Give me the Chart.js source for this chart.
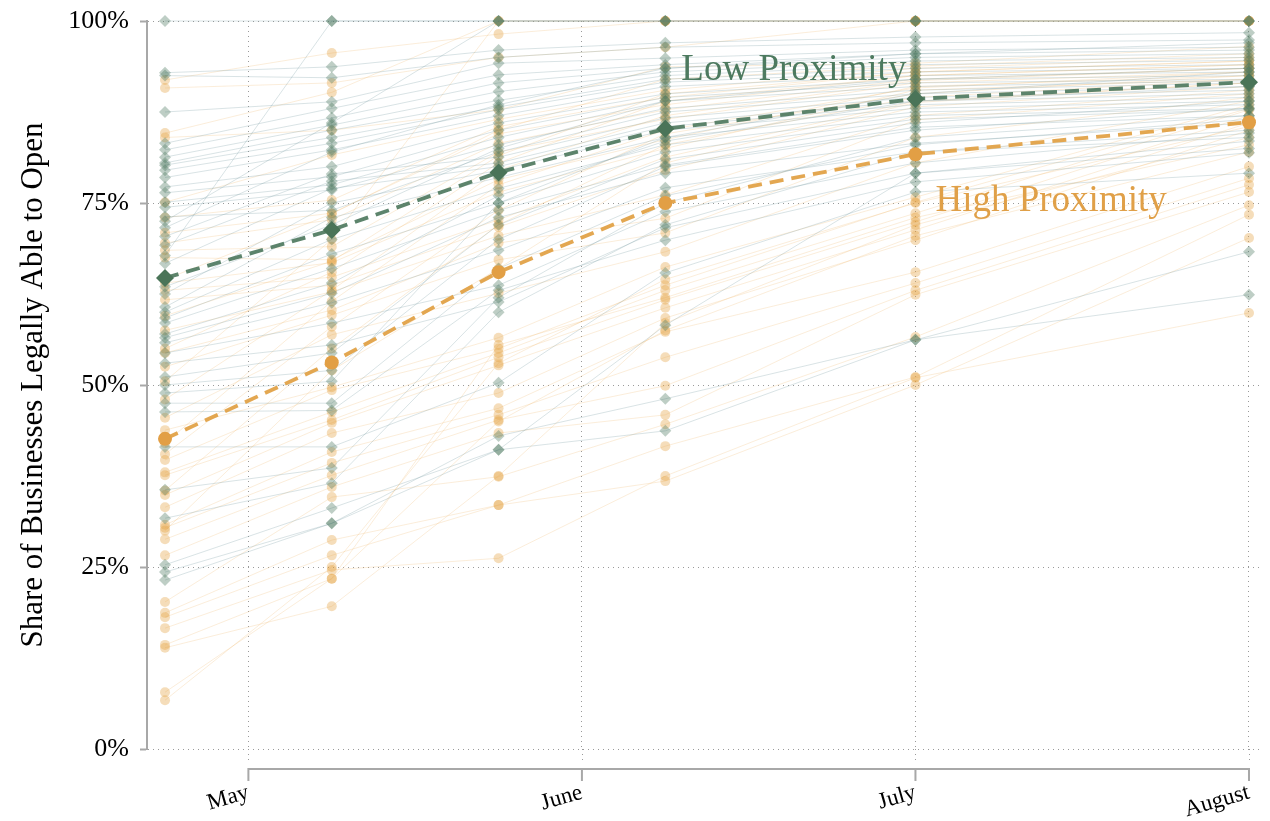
<!DOCTYPE html>
<html>
<head>
<meta charset="utf-8">
<script src="https://cdn.jsdelivr.net/npm/chart.js@4.4.1/dist/chart.umd.min.js"></script>
<style>
  html, body { margin: 0; padding: 0; background: #ffffff; }
  #wrap { width: 1270px; height: 821px; }
</style>
</head>
<body>
<div id="wrap"><canvas id="c" width="1270" height="821"></canvas></div>
<script>
// Month axis: values are month numbers (5 = start of May)
const monthTicks = [5, 6, 7, 8];
const monthLabels = ['May', 'June', 'July', 'August'];
const obsDates = [4.75, 5.25, 5.75, 6.25, 7, 8];
const yTicks = [0, 25, 50, 75, 100];

// Averages across states (percent legally able to open)
const lowMean  = [64.7, 71.3, 79.2, 85.2, 89.3, 91.6];
const highMean = [42.6, 53.1, 65.5, 75.0, 81.7, 86.1];

// Per-state trajectories, low-proximity businesses
const lowStates = [
  [100, 100, 100, 100, 100, 100],
  [92.9, 93.7, 96.0, 97.0, 97.8, 98.4],
  [92.5, 92.2, 95.0, 96.4, 97.0, 97.4],
  [87.5, 88.9, 94.2, 94.9, 96.0, 96.4],
  [83.2, 88.0, 92.6, 94.0, 95.5, 96.0],
  [82.3, 86.7, 91.5, 93.5, 95.0, 95.5],
  [81.3, 85.7, 90.3, 93.0, 94.5, 95.0],
  [80.5, 85.0, 89.1, 92.5, 94.0, 94.6],
  [80.2, 84.0, 88.2, 92.0, 93.5, 94.0],
  [79.5, 83.2, 87.8, 91.6, 93.0, 93.5],
  [78.5, 82.3, 87.0, 91.0, 92.5, 93.0],
  [77.2, 80.0, 86.0, 90.0, 92.0, 92.5],
  [76.4, 78.6, 85.0, 89.5, 91.5, 92.0],
  [75.1, 77.5, 84.0, 89.0, 91.0, 91.8],
  [74.4, 76.8, 83.0, 88.0, 90.5, 91.5],
  [73.1, 74.0, 82.0, 87.5, 90.0, 91.0],
  [72.5, 86.0, 100, 100, 100, 100],
  [71.6, 82.0, 88.5, 93.5, 95.5, 97.0],
  [70.4, 79.0, 81.3, 86.7, 89.5, 90.5],
  [69.2, 78.0, 80.5, 86.0, 89.0, 90.0],
  [66.7, 77.0, 80.0, 85.5, 88.5, 89.5],
  [62.5, 75.0, 79.5, 85.0, 88.0, 89.0],
  [60.7, 73.0, 78.5, 84.0, 87.5, 88.5],
  [60.0, 70.0, 77.0, 83.0, 87.0, 88.0],
  [59.2, 68.0, 75.0, 82.0, 86.5, 87.8],
  [58.5, 66.0, 74.0, 80.2, 85.4, 87.0],
  [56.5, 62.6, 73.0, 79.1, 83.2, 86.0],
  [55.8, 61.3, 68.5, 77.1, 82.0, 85.0],
  [54.4, 58.5, 63.7, 73.8, 80.5, 84.6],
  [53.0, 55.5, 61.4, 71.6, 79.1, 83.5],
  [51.1, 54.4, 72.0, 81.0, 86.0, 89.0],
  [50.0, 52.0, 70.0, 80.0, 85.0, 88.0],
  [48.9, 50.5, 75.0, 84.0, 90.0, 93.0],
  [47.5, 47.5, 66.0, 76.0, 83.0, 86.5],
  [46.3, 46.5, 63.0, 69.9, 77.9, 81.9],
  [41.5, 41.5, 50.3, 65.4, 76.5, 79.1],
  [35.6, 38.6, 62.0, 75.0, 84.0, 87.0],
  [31.7, 36.5, 60.0, 72.0, 82.0, 84.0],
  [25.3, 33.1, 41.1, 58.2, 79.1, 82.5],
  [24.3, 31.0, 43.0, 48.1, 56.2, 62.4],
  [23.2, 31.0, 41.1, 43.7, 56.2, 68.3],
  [57.0, 64.0, 76.0, 83.5, 89.0, 91.0],
  [63.5, 72.0, 82.5, 89.0, 92.0, 93.5],
  [67.8, 100, 100, 100, 100, 100]
];

// Per-state trajectories, high-proximity businesses
const highStates = [
  [91.9, 95.6, 98.2, 100, 100, 100],
  [90.8, 91.5, 95.0, 96.4, 100, 100],
  [84.6, 90.2, 100, 100, 100, 100],
  [84.0, 85.0, 87.8, 93.7, 94.2, 96.5],
  [75.1, 81.6, 86.5, 90.5, 93.5, 95.0],
  [73.0, 75.4, 85.5, 89.5, 93.0, 94.5],
  [70.9, 73.6, 84.5, 88.5, 92.5, 94.0],
  [69.5, 72.7, 83.2, 87.8, 92.0, 93.5],
  [68.5, 69.0, 82.0, 86.5, 91.5, 93.0],
  [67.5, 67.2, 78.2, 83.7, 91.0, 92.5],
  [64.0, 66.8, 76.5, 82.5, 90.5, 92.0],
  [63.0, 64.8, 72.7, 81.3, 89.0, 91.5],
  [61.7, 63.7, 71.7, 79.5, 88.2, 91.0],
  [57.5, 62.8, 70.5, 76.1, 87.0, 90.5],
  [54.4, 60.3, 69.5, 72.9, 86.4, 90.0],
  [52.5, 59.6, 67.2, 70.9, 84.0, 89.5],
  [45.5, 56.9, 62.6, 68.3, 80.5, 89.0],
  [43.8, 49.7, 56.5, 66.2, 75.8, 88.5],
  [39.7, 49.3, 55.0, 63.7, 75.1, 88.0],
  [38.0, 46.3, 54.4, 63.0, 73.6, 87.8],
  [37.6, 45.2, 53.8, 61.7, 72.4, 87.0],
  [34.9, 44.8, 52.7, 60.6, 71.3, 86.0],
  [33.2, 43.4, 48.9, 59.2, 69.9, 85.0],
  [30.8, 40.8, 46.8, 57.3, 65.5, 80.0],
  [30.4, 39.3, 45.9, 53.8, 64.0, 78.4],
  [28.8, 37.6, 45.2, 49.9, 63.0, 77.5],
  [26.6, 36.0, 43.4, 45.9, 62.4, 76.5],
  [20.2, 34.6, 37.4, 44.6, 56.6, 74.7],
  [18.7, 28.7, 33.5, 41.6, 51.1, 73.4],
  [18.1, 26.6, 33.5, 36.8, 50.0, 70.2],
  [16.6, 24.6, 26.2, 37.5, 51.0, 59.9],
  [14.3, 23.4, 45.0, 57.5, 70.5, 82.0],
  [13.9, 19.6, 37.5, 58.5, 72.0, 84.0],
  [7.8, 23.4, 55.5, 62.0, 73.0, 83.0],
  [6.7, 25.0, 53.0, 64.5, 75.0, 85.5],
  [64.5, 73.5, 85.0, 92.0, 93.8, 95.5],
  [59.5, 67.0, 81.5, 90.0, 93.0, 94.5],
  [55.0, 65.5, 80.5, 89.0, 92.5, 94.0],
  [48.0, 63.0, 79.5, 87.0, 91.8, 93.5],
  [42.0, 61.5, 77.5, 85.0, 90.8, 93.0],
  [40.5, 58.0, 74.0, 84.5, 90.0, 92.5],
  [35.5, 55.0, 72.0, 83.0, 89.5, 92.0],
  [30.0, 52.0, 66.0, 80.5, 88.8, 91.5],
  [50.5, 70.0, 100, 100, 100, 100]
];

const GREEN = '#4d7a5f';
const ORANGE = '#e0a048';
const SERIF = '"Liberation Serif", "Times New Roman", "DejaVu Serif", serif';

const toPoints = vals => vals.map((v, i) => ({ x: obsDates[i], y: v }));

const stateSet = (vals, kind) => ({
  data: toPoints(vals),
  showLine: true,
  borderWidth: 1,
  borderColor: kind === 'low' ? 'rgba(115,150,158,0.27)' : 'rgba(240,190,120,0.27)',
  backgroundColor: kind === 'low' ? 'rgba(75,120,95,0.36)' : 'rgba(228,160,65,0.36)',
  pointBorderWidth: 0,
  pointStyle: kind === 'low' ? 'rectRot' : 'circle',
  pointRadius: kind === 'low' ? 6 : 5,
  pointHoverRadius: 0,
  clip: false,
  order: 2
});

const datasets = [];
lowStates.forEach(s => datasets.push(stateSet(s, 'low')));
highStates.forEach(s => datasets.push(stateSet(s, 'high')));

datasets.push({
  data: toPoints(highMean),
  showLine: true,
  borderColor: 'rgba(226,162,72,0.95)',
  borderWidth: 3.8,
  borderDash: [14, 8],
  backgroundColor: '#e29f45',
  pointBorderWidth: 0,
  pointStyle: 'circle',
  pointRadius: 7,
  clip: false,
  order: 1
});
datasets.push({
  data: toPoints(lowMean),
  showLine: true,
  borderColor: 'rgba(84,125,100,0.95)',
  borderWidth: 3.8,
  borderDash: [14, 8],
  backgroundColor: '#4a7458',
  pointBorderWidth: 0,
  pointStyle: 'rectRot',
  pointRadius: 9,
  clip: false,
  order: 0
});

// Offset month axis (line + downward ticks), grid stubs and the in-plot series names
const axisDecor = {
  id: 'axisDecor',
  beforeDatasetsDraw(chart) {
    const { ctx, chartArea, scales: { x } } = chart;
    ctx.save();
    ctx.strokeStyle = '#9a9a9a';
    ctx.lineWidth = 1;
    ctx.setLineDash([1, 4]);
    ctx.beginPath();
    monthTicks.forEach(m => {
      const px = Math.round(x.getPixelForValue(m)) + 0.5;
      ctx.moveTo(px, chartArea.bottom);
      ctx.lineTo(px, chartArea.bottom + 14);
    });
    ctx.stroke();
    ctx.restore();
  },
  afterDraw(chart) {
    const { ctx, chartArea, scales: { x, y } } = chart;
    const yLine = chartArea.bottom + 20;
    ctx.save();
    ctx.strokeStyle = '#a8a8a8';
    ctx.lineWidth = 2;
    ctx.beginPath();
    ctx.moveTo(x.getPixelForValue(monthTicks[0]), yLine);
    ctx.lineTo(x.getPixelForValue(monthTicks[monthTicks.length - 1]), yLine);
    monthTicks.forEach(m => {
      const px = x.getPixelForValue(m);
      ctx.moveTo(px, yLine - 1);
      ctx.lineTo(px, yLine + 12);
    });
    ctx.stroke();

    ctx.font = '37px ' + SERIF;
    ctx.textBaseline = 'middle';
    ctx.textAlign = 'left';
    ctx.fillStyle = GREEN;
    ctx.fillText('Low Proximity', x.getPixelForValue(obsDates[3]) + 16, y.getPixelForValue(93.2));
    ctx.fillStyle = ORANGE;
    ctx.fillText('High Proximity', x.getPixelForValue(obsDates[4]) + 20, y.getPixelForValue(75.2));
    ctx.restore();
  }
};

new Chart(document.getElementById('c'), {
  type: 'scatter',
  data: { datasets },
  plugins: [axisDecor],
  options: {
    responsive: false,
    animation: false,
    devicePixelRatio: 1,
    layout: { padding: { left: 0, right: 8, top: 21, bottom: 0 } },
    plugins: { legend: { display: false }, tooltip: { enabled: false } },
    elements: { line: { tension: 0 } },
    scales: {
      x: {
        type: 'linear',
        min: 4.696,
        max: 8.036,
        afterBuildTicks: s => { s.ticks = monthTicks.map(v => ({ value: v })); },
        afterFit: s => { s.height = 72; s.paddingLeft = 0; s.paddingRight = 0; },
        ticks: {
          autoSkip: false,
          minRotation: 16,
          maxRotation: 16,
          padding: 30,
          color: '#000',
          font: { family: SERIF, size: 23 },
          callback: v => monthLabels[monthTicks.indexOf(v)]
        },
        grid: { color: '#9a9a9a', lineWidth: 1, drawTicks: false },
        border: { display: false, dash: [1, 4] }
      },
      y: {
        min: 0,
        max: 100,
        afterBuildTicks: s => { s.ticks = yTicks.map(v => ({ value: v })); },
        afterFit: s => { s.width = 147; s.paddingTop = 0; s.paddingBottom = 0; },
        ticks: {
          padding: 11,
          color: '#000',
          font: { family: SERIF, size: 26 },
          callback: v => v + '%'
        },
        grid: { color: '#9a9a9a', lineWidth: 1, tickLength: 7, tickColor: '#a8a8a8', tickWidth: 2, tickBorderDash: [] },
        border: { display: true, color: '#a8a8a8', width: 2, dash: [1, 4] },
        title: {
          display: true,
          text: 'Share of Businesses Legally Able to Open',
          color: '#000',
          font: { family: SERIF, size: 31 },
          padding: { top: 15, bottom: 0 }
        }
      }
    }
  }
});
</script>
</body>
</html>
